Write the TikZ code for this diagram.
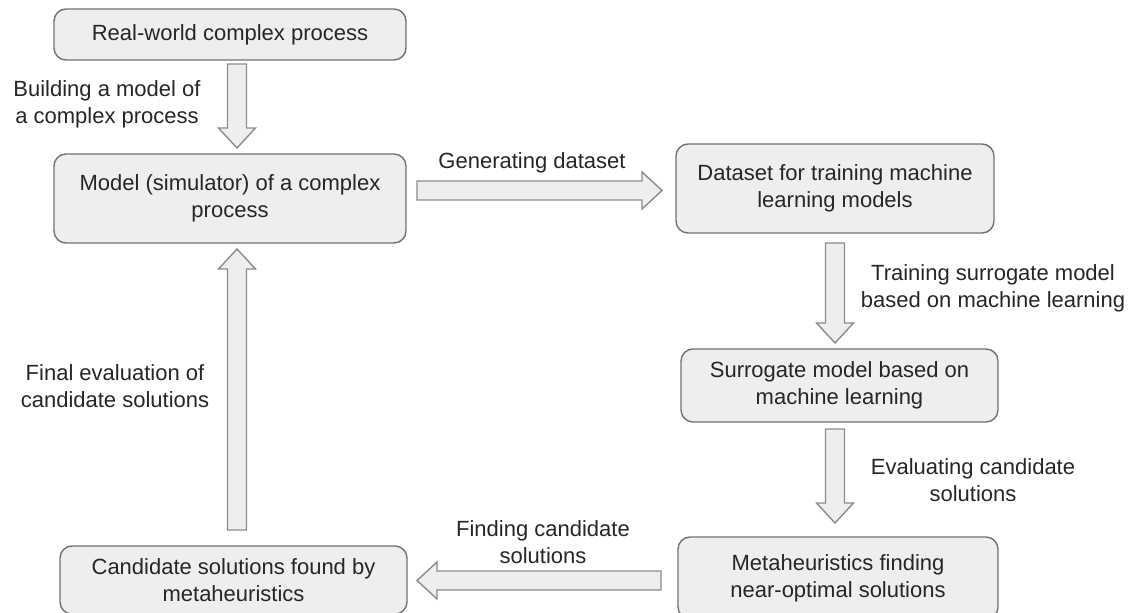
\documentclass[tikz,border=0pt]{standalone}
\usepackage{fontspec}
\setmainfont{Liberation Sans}
\usepackage{tikz}
\usetikzlibrary{calc}
\definecolor{boxfill}{HTML}{EEEEEE}
\definecolor{boxline}{HTML}{727272}
\definecolor{arrline}{HTML}{8C8C8C}
\newcommand\blockarrow[2]{
  \coordinate (headbase) at ($(#2)!10pt!(#1)$);
  \draw[flow] ($(#1)!4.75pt!90:(#2)$) -- ($(headbase)!4.75pt!90:(#2)$) -- ($(headbase)!9.25pt!90:(#2)$) -- (#2) -- ($(headbase)!9.25pt!-90:(#2)$) -- ($(headbase)!4.75pt!-90:(#2)$) -- ($(#1)!4.75pt!-90:(#2)$) -- cycle;
}

\begin{document}
\begin{tikzpicture}[x=0.5pt, y=-0.5pt,
  box/.style = {draw=boxline, fill=boxfill, rounded corners=6pt, align=center, inner sep=0pt, line width=0.7pt, text=black!85, font=\fontsize{11}{13.5}\selectfont},
  lbl/.style = {align=center, inner sep=0pt, text=black!85, font=\fontsize{11}{13.5}\selectfont},
  flow/.style = {draw=arrline, fill=boxfill, line width=0.7pt, line join=miter}]
	\path[use as bounding box, clip] (0,0) rectangle (1143,613);
	\node[box, minimum width=176pt, minimum height=25.5pt] (real) at (230,34.5) {Real-world complex process};
	\node[box, minimum width=176pt, minimum height=44.5pt] (model) at (230,198.5) {Model (simulator) of a complex\\process};
	\node[box, minimum width=159pt, minimum height=44.5pt] (data) at (835,188.5) {Dataset for training machine\\learning models};
	\node[box, minimum width=158.5pt, minimum height=36.5pt] (surr) at (839.5,385.5) {Surrogate model based on\\machine learning};
	\node[box, minimum width=160pt, minimum height=41pt] (meta) at (838,578) {Metaheuristics finding\\near-optimal solutions};
	\node[box, minimum width=173.5pt, minimum height=34pt] (cand) at (233.5,580) {Candidate solutions found by\\metaheuristics};
	\coordinate (buildS) at (237,64);
	\coordinate (buildT) at (237,148);
	\coordinate (genS) at (417,190.5);
	\coordinate (genT) at (662,190.5);
	\coordinate (trainS) at (835,243);
	\coordinate (trainT) at (835,343);
	\coordinate (evalS) at (835,429);
	\coordinate (evalT) at (835,523);
	\coordinate (findS) at (661,580.5);
	\coordinate (findT) at (417,580.5);
	\coordinate (finalS) at (237,530);
	\coordinate (finalT) at (237,249);
	\blockarrow{buildS}{buildT}
	\blockarrow{genS}{genT}
	\blockarrow{trainS}{trainT}
	\blockarrow{evalS}{evalT}
	\blockarrow{findS}{findT}
	\blockarrow{finalS}{finalT}
	\node[lbl] (buildlbl) at (107,104.5) {Building a model of\\a complex process};
	\node[lbl] (genlbl) at (532,163) {Generating dataset};
	\node[lbl] (trainlbl) at (993,288) {Training surrogate model\\based on machine learning};
	\node[lbl] (evallbl) at (973,480) {Evaluating candidate\\solutions};
	\node[lbl] (findlbl) at (543,542.5) {Finding candidate\\solutions};
	\node[lbl] (finallbl) at (115,386.5) {Final evaluation of\\candidate solutions};
\end{tikzpicture}
\end{document}
